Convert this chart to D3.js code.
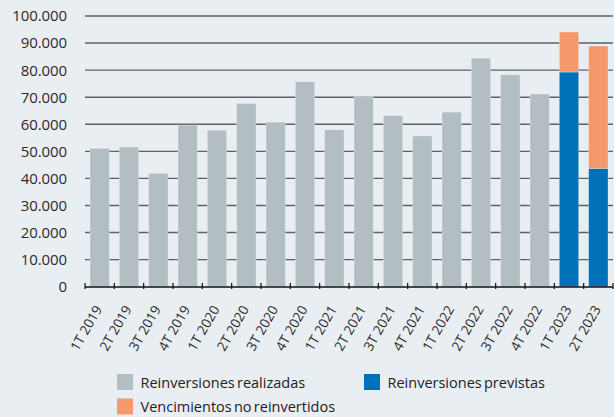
<!DOCTYPE html>
<html><head><meta charset="utf-8">
<script src="https://cdn.jsdelivr.net/npm/d3@7"></script>
<style>
html,body{margin:0;padding:0;background:#e9eef2;}
svg{display:block;font-family:"Open Sans",sans-serif;}
</style></head>
<body>
<script>
const categories = ["1T 2019","2T 2019","3T 2019","4T 2019","1T 2020","2T 2020","3T 2020","4T 2020","1T 2021","2T 2021","3T 2021","4T 2021","1T 2022","2T 2022","3T 2022","4T 2022","1T 2023","2T 2023"];
const realizadas = [51100,51600,41900,59700,57800,67700,60800,75700,58000,70200,63200,55700,64500,84400,78300,71200,0,0];
const previstas  = [0,0,0,0,0,0,0,0,0,0,0,0,0,0,0,0,79300,43700];
const noReinvertidos = [0,0,0,0,0,0,0,0,0,0,0,0,0,0,0,0,14800,45200];
const yTicks = [0,10000,20000,30000,40000,50000,60000,70000,80000,90000,100000];
const seriesNames = ["Reinversiones realizadas","Reinversiones previstas","Vencimientos no reinvertidos"];
const colors = ["#b3bec2","#0070b8","#f4996b"];

const W=614,H=417;
const svg=d3.select("body").append("svg").attr("width",W).attr("height",H);
svg.append("rect").attr("width",W).attr("height",H).attr("fill","#e9eef2");

const x=d3.scaleBand().domain(categories).range([85,613]).paddingInner(0.34).paddingOuter(0.17);
const y=d3.scaleLinear().domain([0,100000]).range([286.7,16]);
const fmt=v=>d3.format(",")(v).replace(/,/g,".");

// gridlines
svg.append("g").selectAll("line").data(yTicks.filter(d=>d>0)).join("line")
  .attr("x1",85).attr("x2",613).attr("y1",d=>y(d)).attr("y2",d=>y(d))
  .attr("stroke","#5d6063").attr("stroke-width",1.4);

// y labels
svg.append("g").selectAll("text").data(yTicks).join("text")
  .attr("x",67).attr("y",d=>y(d)).attr("dy","0.36em").attr("text-anchor","end")
  .attr("font-size",15).attr("fill","#2b2b2b").attr("letter-spacing","-0.1")
  .text(fmt);

// stacked data
const rows=categories.map((c,i)=>({cat:c,r:realizadas[i],p:previstas[i],n:noReinvertidos[i]}));
const stack=d3.stack().keys(["r","p","n"])(rows);
svg.append("g").selectAll("g").data(stack).join("g").attr("fill",(d,i)=>colors[i])
  .selectAll("rect").data(d=>d.filter(s=>s[1]-s[0]>0)).join("rect")
  .attr("x",d=>x(d.data.cat)).attr("width",x.bandwidth())
  .attr("y",d=>y(d[1])).attr("height",d=>y(d[0])-y(d[1]))
  .attr("stroke","#ffffff").attr("stroke-opacity",0.35).attr("stroke-width",0.8);

// axis line and ticks
const step=x.step();
svg.append("line").attr("x1",85).attr("x2",613).attr("y1",287).attr("y2",287).attr("stroke","#111").attr("stroke-width",1.4);
svg.append("g").selectAll("line").data(d3.range(categories.length+1)).join("line")
  .attr("x1",i=>85+i*step).attr("x2",i=>85+i*step).attr("y1",283).attr("y2",289)
  .attr("stroke","#111").attr("stroke-width",1.2);

// x labels
svg.append("g").selectAll("text").data(categories).join("text")
  .attr("transform",d=>`translate(${x(d)+x.bandwidth()/2+3},309) rotate(-60)`)
  .attr("text-anchor","end").attr("font-size",13.5).attr("fill","#2b2b2b")
  .text(d=>d);

// legend
const leg=[{i:0,x:117,y:374},{i:1,x:364,y:374},{i:2,x:117,y:398.5}];
const lg=svg.append("g").selectAll("g").data(leg).join("g").attr("transform",d=>`translate(${d.x},${d.y})`);
lg.append("rect").attr("width",16).attr("height",16).attr("fill",d=>colors[d.i]);
lg.append("text").attr("x",23.5).attr("y",13.6).attr("font-size",14.5).attr("fill","#222").attr("word-spacing","-1.5")
  .text(d=>seriesNames[d.i]);
</script>
</body></html>
